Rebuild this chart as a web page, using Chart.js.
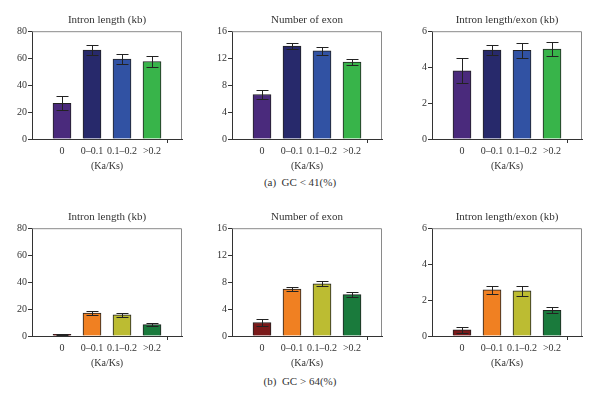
<!DOCTYPE html>
<html>
<head>
<meta charset="utf-8">
<script src="https://cdn.jsdelivr.net/npm/chart.js@4"></script>
<style>
  body { margin: 0; background: #fff; }
  #wrap { position: relative; width: 601px; height: 394px; background: #fff; font-family: "Liberation Serif", serif; }
  canvas { position: absolute; }
  .cap { position: absolute; left: 200px; width: 200px; text-align: center; font-size: 11px; color: #333; white-space: pre; }
</style>
</head>
<body>
<div id="wrap">
  <canvas id="a1" style="left:0;top:0" width="200" height="172"></canvas>
  <canvas id="a2" style="left:200px;top:0" width="200" height="172"></canvas>
  <canvas id="a3" style="left:400px;top:0" width="200" height="172"></canvas>
  <div class="cap" style="top:176px">(a)  GC &lt; 41(%)</div>
  <canvas id="b1" style="left:0;top:197px" width="200" height="172"></canvas>
  <canvas id="b2" style="left:200px;top:197px" width="200" height="172"></canvas>
  <canvas id="b3" style="left:400px;top:197px" width="200" height="172"></canvas>
  <div class="cap" style="top:375px">(b)  GC &gt; 64(%)</div>
</div>
<script>
// categorias Ka/Ks
const kaks = ['0', '0\u20130.1', '0.1\u20130.2', '>0.2'];

// (a) GC < 41(%)
const lowIntron = [26.5, 66, 59.3, 57.5];
const lowIntronErr = [5.3, 4, 3.7, 4];
const lowExon = [6.6, 13.8, 13.1, 11.4];
const lowExonErr = [0.7, 0.5, 0.6, 0.45];
const lowRatio = [3.8, 4.95, 4.93, 5.0];
const lowRatioErr = [0.69, 0.28, 0.4, 0.38];
const lowColors = ['#4a2a7c', '#27296b', '#3152a3', '#38b44a'];

// (b) GC > 64(%)
const highIntron = [1.3, 17, 15.7, 8.5];
const highIntronErr = [0.5, 1.3, 1.5, 0.9];
const highExon = [2.0, 6.95, 7.75, 6.15];
const highExonErr = [0.5, 0.3, 0.37, 0.35];
const highRatio = [0.35, 2.57, 2.52, 1.43];
const highRatioErr = [0.16, 0.22, 0.27, 0.16];
const highColors = ['#7a1a1a', '#f08022', '#bcbc32', '#1a7a3c'];

const FONT = "'Liberation Serif', serif";

//Barras de error
const errorBars = {
  id: 'errorBars',
  afterDatasetsDraw(chart) {
    const ctx = chart.ctx;
    const y = chart.scales.y;
    const ds = chart.data.datasets[0];
    const meta = chart.getDatasetMeta(0);
    ctx.save();
    ctx.strokeStyle = '#222';
    ctx.lineWidth = 1;
    meta.data.forEach((bar, i) => {
      const v = ds.data[i];
      if (v == null) return;
      const e = ds.errors[i];
      const x = Math.round(bar.x) + 0.5;
      const top = Math.round(y.getPixelForValue(v + e)) + 0.5;
      const bot = Math.round(y.getPixelForValue(v - e)) + 0.5;
      ctx.beginPath();
      ctx.moveTo(x, top); ctx.lineTo(x, bot);
      ctx.moveTo(x - 6, top); ctx.lineTo(x + 6, top);
      ctx.moveTo(x - 6, bot); ctx.lineTo(x + 6, bot);
      ctx.stroke();
    });
    ctx.restore();
  }
};

//Marco gris arriba y a la derecha
const frame = {
  id: 'frame',
  afterDraw(chart) {
    const {ctx, chartArea: a} = chart;
    ctx.save();
    ctx.strokeStyle = '#8a8a8a';
    ctx.lineWidth = 1;
    ctx.beginPath();
    ctx.moveTo(a.left, a.top + 0.5);
    ctx.lineTo(a.right - 0.5, a.top + 0.5);
    ctx.lineTo(a.right - 0.5, a.bottom);
    ctx.stroke();
    ctx.restore();
  }
};

function panel(id, title, values, errors, colors, max, step) {
  new Chart(document.getElementById(id), {
    type: 'bar',
    data: {
      labels: ['', ...kaks, ''],
      datasets: [{
        data: [null, ...values, null],
        errors: [null, ...errors, null],
        backgroundColor: ['', ...colors, ''],
        borderColor: '#222',
        borderWidth: 1,
        barThickness: 18,
      }],
    },
    options: {
      responsive: false,
      animation: false,
      layout: { padding: { left: 0, right: 18, top: 0, bottom: 0 } },
      plugins: {
        legend: { display: false },
        tooltip: { enabled: false },
        title: {
          display: true,
          text: title,
          fullSize: false,
          color: '#333',
          font: { family: FONT, size: 11, weight: 'normal', lineHeight: 1.2 },
          padding: { top: 14, bottom: 4 },
        },
      },
      scales: {
        x: {
          offset: false,
          grid: {
            drawOnChartArea: false,
            tickLength: 4,
            tickColor: (c) => (c.index === 0 || c.index === 5) ? '#333' : 'rgba(0,0,0,0)',
          },
          border: { display: true, color: '#333' },
          ticks: { autoSkip: false, maxRotation: 0, padding: 2, color: '#333', font: { family: FONT, size: 10 } },
          title: { display: true, text: '(Ka/Ks)', color: '#333', padding: 0, font: { family: FONT, size: 10, lineHeight: 1.2 } },
          afterFit: (s) => { s.height = 33; },
        },
        y: {
          min: 0,
          max: max,
          grid: { drawOnChartArea: false, tickLength: 4, color: '#333' },
          border: { display: true, color: '#333' },
          ticks: { stepSize: step, padding: 1, color: '#333', font: { family: FONT, size: 10 } },
          afterFit: (s) => { s.width = 32; },
        },
      },
    },
    plugins: [errorBars, frame],
  });
}

panel('a1', 'Intron length (kb)', lowIntron, lowIntronErr, lowColors, 80, 20);
panel('a2', 'Number of exon', lowExon, lowExonErr, lowColors, 16, 4);
panel('a3', 'Intron length/exon (kb)', lowRatio, lowRatioErr, lowColors, 6, 2);
panel('b1', 'Intron length (kb)', highIntron, highIntronErr, highColors, 80, 20);
panel('b2', 'Number of exon', highExon, highExonErr, highColors, 16, 4);
panel('b3', 'Intron length/exon (kb)', highRatio, highRatioErr, highColors, 6, 2);
</script>
</body>
</html>
